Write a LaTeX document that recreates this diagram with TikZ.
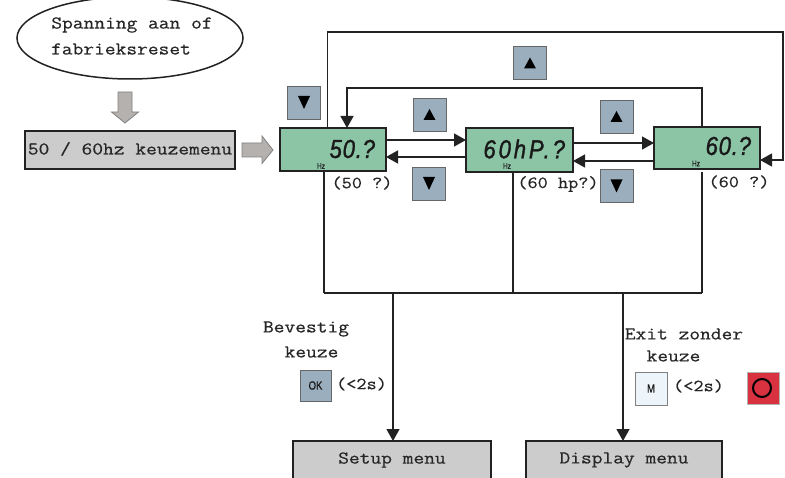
\documentclass[tikz,border=0pt]{standalone}
\usepackage{fontspec}
\usetikzlibrary{arrows.meta,shapes.geometric}
\newfontfamily\courf[FakeStretch=1.16,FakeBold=0.45]{Latin Modern Mono}
\newfontfamily\lcdf[FakeStretch=0.85,FakeBold=1.2,LetterSpace=3]{Liberation Sans Italic}
\newfontfamily\lcdw[FakeStretch=0.85,FakeBold=1.2,LetterSpace=11]{Liberation Sans Italic}
\newfontfamily\keyf[FakeStretch=0.8,FakeBold=0.6]{Liberation Sans}
\definecolor{lcdg}{HTML}{8CC4A6}
\definecolor{btn}{HTML}{9AAEBE}
\definecolor{menug}{HTML}{CCCCCC}
\definecolor{arrg}{HTML}{B5B1AE}
\definecolor{linec}{HTML}{222222}
\definecolor{redb}{HTML}{D8313F}
\definecolor{mbtn}{HTML}{EEF5FA}
\tikzset{
  rectbase/.style={rectangle,inner sep=0pt,outer sep=0pt},
  lcdbox/.style={rectbase,draw=linec,line width=1.2pt,fill=lcdg},
  menubox/.style={rectbase,draw=linec,line width=1.2pt,fill=menug},
  keybtn/.style={rectbase,draw=black!60,line width=0.8pt,fill=btn,minimum width=33pt,minimum height=33pt},
  upbtn/.style={keybtn,path picture={\fill[black] (path picture bounding box.center) ++(-6,5.5) -- ++(12,0) -- ++(-6,-11) -- cycle;}},
  downbtn/.style={keybtn,path picture={\fill[black] (path picture bounding box.center) ++(-6,-6.5) -- ++(12,0) -- ++(-6,13) -- cycle;}},
  txt/.style={font=\courf\fontsize{18}{20}\selectfont,inner sep=0pt,outer sep=0pt,text=black!85},
  small/.style={font=\courf\fontsize{17}{18}\selectfont,inner sep=0pt,outer sep=0pt,text=black!85},
  lcdtxt/.style={font=\lcdf\fontsize{26}{20}\selectfont,inner sep=0pt,outer sep=0pt,text=black!90},
  lcdwide/.style={font=\lcdw\fontsize{26}{20}\selectfont,inner sep=0pt,outer sep=0pt,text=black!90},
  hz/.style={font=\keyf\fontsize{8}{8}\selectfont,inner sep=0pt,outer sep=0pt,text=black!90},
  keylab/.style={font=\keyf\fontsize{12}{12}\selectfont,inner sep=0pt,outer sep=0pt,text=black!90},
  conn/.style={draw=linec,line width=1.3pt},
  arr/.style={conn,-{Triangle[length=12pt,width=13pt]}},
  bigarr/.style={draw=black!50,fill=arrg,line width=0.8pt}
}
\begin{document}
\begin{tikzpicture}[x=1pt,y=-1pt]
\useasboundingbox (0,0) rectangle (785,478);
\clip (0,0) rectangle (785,478);
\fill[white] (0,0) rectangle (785,478);
% start
\node[ellipse,draw=linec,line width=1.5pt,fill=white,minimum width=226pt,minimum height=82pt,inner sep=0pt,outer sep=0pt] (start) at (130,38) {};
\node[txt] (st1) at (132,25) {Spanning aan of};
\node[txt] (st2) at (121,49) {fabrieksreset};
\node[menubox,minimum width=210pt,minimum height=38pt] (menu) at (130,150) {};
\node[txt] (menut) at (130,149) {50 / 60hz keuzemenu};
\draw[bigarr] (118,92) -- (132,92) -- (132,112) -- (138.5,112) -- (125,123) -- (111.5,112) -- (118,112) -- cycle;
\draw[bigarr] (242,143) -- (262,143) -- (262,136) -- (273,150) -- (262,163.5) -- (262,157) -- (242,157) -- cycle;
% lcds
\node[lcdbox,minimum width=106pt,minimum height=43pt] (lcd1) at (333,149.5) {};
\node[lcdbox,minimum width=107pt,minimum height=44pt] (lcd2) at (519.5,150) {};
\node[lcdbox,minimum width=106pt,minimum height=42pt] (lcd3) at (707,148) {};
\node[lcdtxt,anchor=east] (l1t) at (375,149) {50.?};
\node[lcdwide,anchor=east] (l2t) at (565,149) {60hP.?};
\node[lcdtxt,anchor=east] (l3t) at (751,146) {60.?};
\node[hz] (h1) at (321,166) {Hz};
\node[hz] (h2) at (507,166) {Hz};
\node[hz] (h3) at (696,163.5) {Hz};
\node[small] (c1) at (362,183) {(50 ?)};
\node[small] (c2) at (558,184) {(60 hp?)};
\node[small] (c3) at (739,182) {(60 ?)};
% buttons
\node[downbtn] (bd1) at (304,102.5) {};
\node[upbtn] (bu1) at (429.5,114.5) {};
\node[downbtn] (bd2) at (429,183.5) {};
\node[upbtn] (bu0) at (530,63) {};
\node[upbtn] (bu3) at (616.5,116.5) {};
\node[downbtn] (bd3) at (616.5,186) {};
% coordinates
\coordinate (out1) at (327.5,128);
\coordinate (outa) at (327.5,32);
\coordinate (outb) at (783,32);
\coordinate (outc) at (783,160);
\coordinate (ina) at (702,88);
\coordinate (inb) at (347,88);
\coordinate (j1) at (324,293);
\coordinate (j2) at (513,293);
\coordinate (j3) at (702,293);
\coordinate (jok) at (393,293);
\coordinate (jm) at (623,293);
% menus at bottom
\node[menubox,minimum width=198pt,minimum height=58pt] (setup) at (392,470) {};
\node[menubox,minimum width=196pt,minimum height=58pt] (disp) at (624,470) {};
\node[txt] (st) at (392,460) {Setup menu};
\node[txt] (dt) at (624,460) {Display menu};
% connectors
\draw[arr] (out1) -- (outa) -- (outb) -- (outc) -- (lcd3.east |- outc);
\draw[arr] (lcd3.north -| ina) -- (ina) -- (inb) -- (lcd1.north -| inb);
\draw[arr] (lcd1.east |- 0,140) -- (lcd2.west |- 0,140);
\draw[arr] (lcd2.west |- 0,157) -- (lcd1.east |- 0,157);
\draw[arr] (lcd2.east |- 0,143) -- (lcd3.west |- 0,143);
\draw[arr] (lcd3.west |- 0,161) -- (lcd2.east |- 0,161);
\draw[conn] (lcd1.south -| j1) -- (j1);
\draw[conn] (lcd2.south -| j2) -- (j2);
\draw[conn] (j3 |- 0,172) -- (j3);
\draw[conn] (j1) -- (j3);
\draw[arr] (jok) -- (setup.north -| jok);
\draw[arr] (jm) -- (disp.north -| jm);
% left captions
\node[txt] (b1) at (306,329) {Bevestig};
\node[txt] (b2) at (311.5,352) {keuze};
\node[rectbase,draw=black!60,line width=0.8pt,fill=btn,minimum width=31pt,minimum height=31pt,keylab] (ok) at (315.5,385.5) {OK};
\node[small] (t1) at (361.5,384) {(<2s)};
% right captions
\node[txt] (e1) at (684,334) {Exit zonder};
\node[txt] (e2) at (673.5,356) {keuze};
\node[rectbase,draw=black!50,line width=0.8pt,fill=mbtn,minimum width=32pt,minimum height=33pt,keylab] (m) at (651,388.5) {M};
\node[small] (t2) at (698.5,386) {(<2s)};
\node[rectbase,draw=black!30,line width=0.6pt,fill=redb,minimum width=32pt,minimum height=32pt] (red) at (763,388) {};
\node[circle,draw=black,line width=2pt,minimum size=18pt,inner sep=0pt] (redc) at (762,388) {};
\end{tikzpicture}
\end{document}
